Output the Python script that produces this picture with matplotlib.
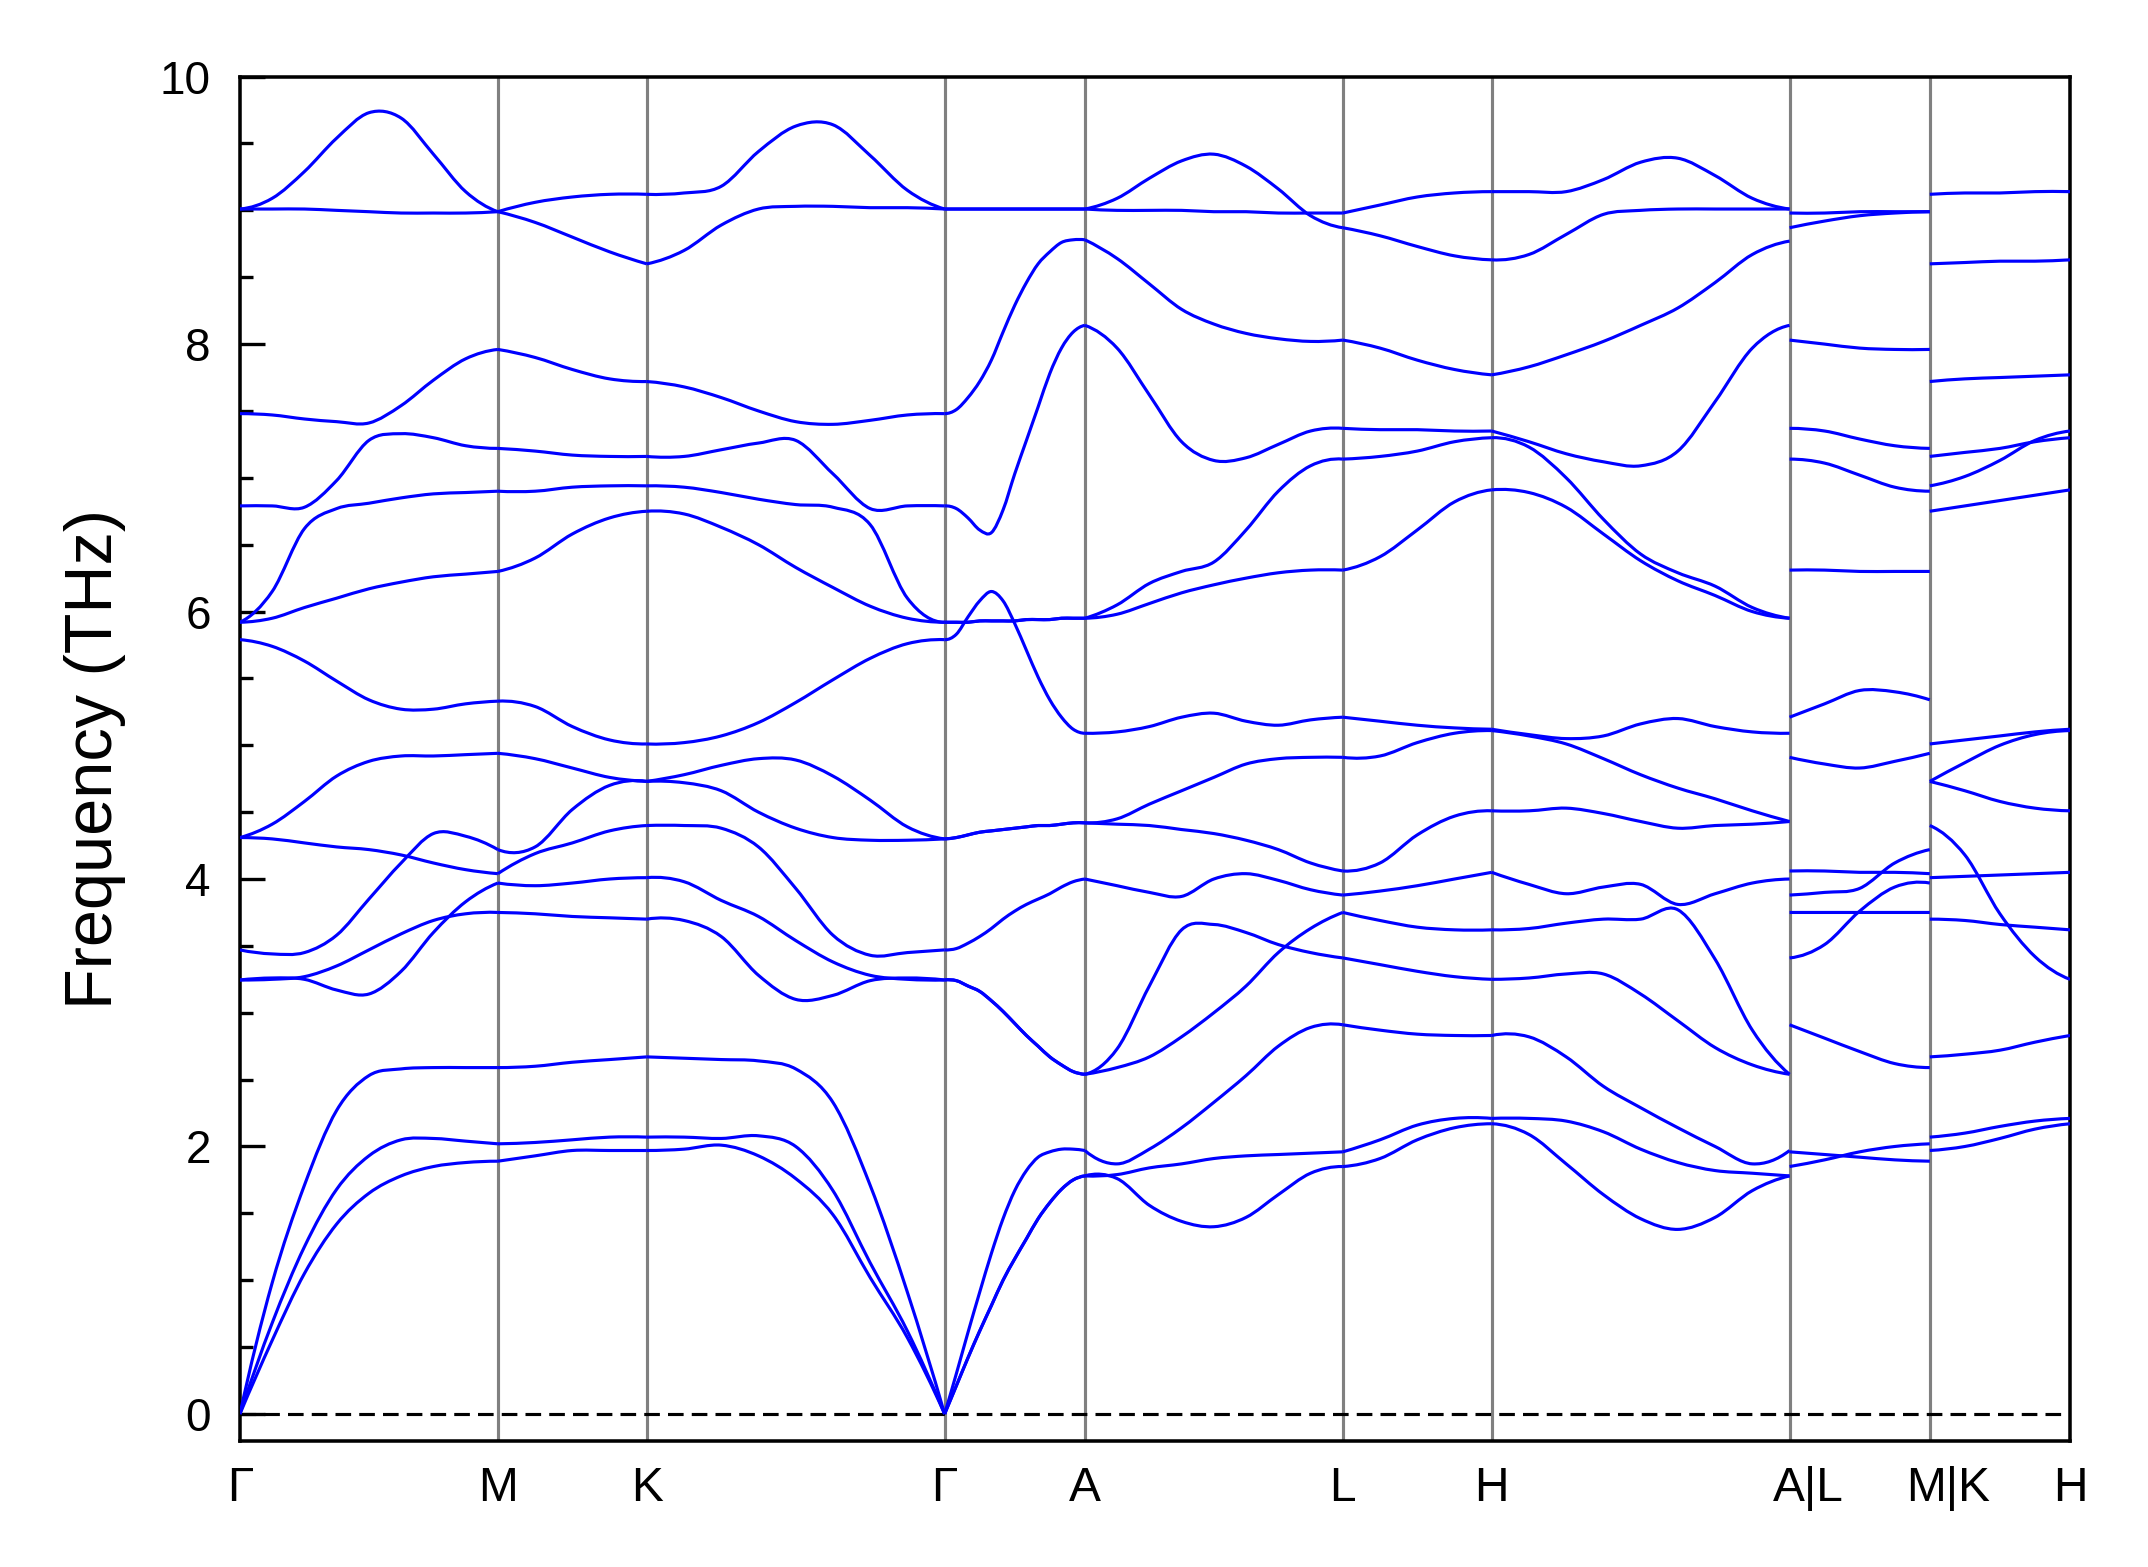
import numpy as np
import matplotlib
matplotlib.use("Agg")
import matplotlib.pyplot as plt
import matplotlib.transforms as mtransforms
from matplotlib.ticker import MultipleLocator
from matplotlib.path import Path
from matplotlib.patches import PathPatch

plt.rcParams['font.family'] = ['Liberation Sans', 'DejaVu Sans']

# ---------------- data ----------------
labels = ['Γ', 'M', 'K', 'Γ', 'A', 'L', 'H', 'A|L', 'M|K', 'H']
# path lengths of the segments (reciprocal-space distance, arbitrary units)
seg_names = ['Γ-M', 'M-K', 'K-Γ', 'Γ-A', 'A-L', 'L-H', 'H-A', 'L-M', 'K-H']
seg_len = [1.0, 0.5774, 1.1547, 0.5437, 1.0, 0.5774, 1.1547, 0.5437, 0.5437]

# frequencies (THz), each list = one band sampled evenly along its segment
G_M = [
    [9.01, 9.09, 9.29, 9.54, 9.73, 9.69, 9.42, 9.14, 8.99],
    [9.01, 9.01, 9.01, 9.00, 8.99, 8.98, 8.98, 8.98, 8.99],
    [7.48, 7.47, 7.44, 7.42, 7.41, 7.54, 7.73, 7.89, 7.96],
    [6.79, 6.79, 6.78, 6.98, 7.28, 7.33, 7.30, 7.24, 7.22],
    [5.92, 6.15, 6.62, 6.77, 6.81, 6.85, 6.88, 6.89, 6.90],
    [5.92, 5.95, 6.03, 6.10, 6.17, 6.22, 6.26, 6.28, 6.30],
    [5.79, 5.74, 5.63, 5.48, 5.34, 5.27, 5.27, 5.31, 5.33],
    [4.31, 4.41, 4.58, 4.77, 4.88, 4.92, 4.92, 4.93, 4.94],
    [4.31, 4.30, 4.27, 4.24, 4.22, 4.18, 4.12, 4.07, 4.04],
    [3.47, 3.44, 3.45, 3.58, 3.85, 4.12, 4.34, 4.32, 4.22],
    [3.245, 3.26, 3.25, 3.17, 3.14, 3.31, 3.60, 3.83, 3.97],
    [3.245, 3.25, 3.27, 3.35, 3.47, 3.59, 3.69, 3.74, 3.75],
    [0.0, 0.98, 1.71, 2.27, 2.53, 2.58, 2.59, 2.59, 2.59],
    [0.0, 0.68, 1.25, 1.68, 1.93, 2.05, 2.06, 2.04, 2.02],
    [0.0, 0.55, 1.05, 1.42, 1.65, 1.78, 1.85, 1.88, 1.89],
]
M_K = [
    [8.99, 9.06, 9.10, 9.12, 9.12],
    [8.99, 8.91, 8.80, 8.69, 8.60],
    [7.96, 7.90, 7.81, 7.74, 7.72],
    [7.22, 7.20, 7.17, 7.16, 7.16],
    [6.90, 6.90, 6.93, 6.94, 6.94],
    [6.30, 6.40, 6.58, 6.70, 6.75],
    [5.33, 5.29, 5.14, 5.04, 5.01],
    [4.94, 4.90, 4.83, 4.76, 4.73],
    [4.22, 4.24, 4.52, 4.70, 4.73],
    [4.04, 4.19, 4.27, 4.36, 4.40],
    [3.97, 3.95, 3.97, 4.00, 4.01],
    [3.75, 3.74, 3.72, 3.71, 3.70],
    [2.59, 2.60, 2.63, 2.65, 2.67],
    [2.02, 2.03, 2.05, 2.07, 2.07],
    [1.89, 1.93, 1.97, 1.97, 1.97],
]
K_G = [
    [9.12, 9.13, 9.18, 9.44, 9.63, 9.64, 9.41, 9.15, 9.01],
    [8.60, 8.70, 8.89, 9.01, 9.03, 9.03, 9.02, 9.02, 9.01],
    [7.72, 7.68, 7.60, 7.50, 7.42, 7.40, 7.43, 7.47, 7.48],
    [7.16, 7.16, 7.21, 7.26, 7.28, 7.03, 6.77, 6.79, 6.79],
    [6.94, 6.93, 6.89, 6.84, 6.80, 6.78, 6.65, 6.10, 5.92],
    [6.75, 6.73, 6.63, 6.50, 6.33, 6.18, 6.04, 5.95, 5.92],
    [5.01, 5.02, 5.07, 5.17, 5.32, 5.49, 5.65, 5.76, 5.79],
    [4.73, 4.78, 4.85, 4.90, 4.89, 4.77, 4.59, 4.39, 4.30],
    [4.73, 4.72, 4.66, 4.50, 4.38, 4.31, 4.29, 4.29, 4.30],
    [4.40, 4.40, 4.38, 4.24, 3.93, 3.58, 3.43, 3.45, 3.47],
    [4.01, 3.98, 3.84, 3.72, 3.54, 3.38, 3.28, 3.25, 3.245],
    [3.70, 3.69, 3.57, 3.28, 3.10, 3.13, 3.24, 3.26, 3.245],
    [2.67, 2.66, 2.65, 2.64, 2.58, 2.33, 1.71, 0.91, 0.0],
    [2.07, 2.07, 2.06, 2.08, 2.00, 1.67, 1.13, 0.62, 0.0],
    [1.97, 1.98, 2.01, 1.93, 1.76, 1.49, 1.02, 0.57, 0.0],
]
G_A = [
    [9.01, 9.01, 9.01, 9.01, 9.01, 9.01, 9.01, 9.01, 9.01, 9.01, 9.01, 9.01, 9.01],
    [9.01, 9.01, 9.01, 9.01, 9.01, 9.01, 9.01, 9.01, 9.01, 9.01, 9.01, 9.01, 9.01],
    [7.48, 7.51, 7.60, 7.72, 7.88, 8.09, 8.29, 8.46, 8.60, 8.69, 8.76, 8.78, 8.78],
    [6.79, 6.77, 6.70, 6.61, 6.59, 6.76, 7.03, 7.28, 7.53, 7.78, 7.97, 8.09, 8.14],
    [5.92, 5.92, 5.92, 5.93, 5.93, 5.93, 5.93, 5.94, 5.94, 5.94, 5.95, 5.95, 5.95],
    [5.92, 5.92, 5.92, 5.93, 5.93, 5.93, 5.93, 5.94, 5.94, 5.94, 5.95, 5.95, 5.95],
    [5.79, 5.83, 5.96, 6.08, 6.15, 6.08, 5.91, 5.71, 5.51, 5.34, 5.21, 5.12, 5.09],
    [4.30, 4.31, 4.33, 4.35, 4.36, 4.37, 4.38, 4.39, 4.40, 4.40, 4.41, 4.42, 4.42],
    [4.30, 4.31, 4.33, 4.35, 4.36, 4.37, 4.38, 4.39, 4.40, 4.40, 4.41, 4.42, 4.42],
    [3.47, 3.48, 3.52, 3.57, 3.63, 3.70, 3.76, 3.81, 3.85, 3.89, 3.94, 3.98, 4.00],
    [3.245, 3.24, 3.20, 3.16, 3.09, 3.01, 2.92, 2.83, 2.75, 2.67, 2.61, 2.56, 2.54],
    [3.245, 3.24, 3.20, 3.16, 3.09, 3.01, 2.92, 2.83, 2.75, 2.67, 2.61, 2.56, 2.54],
    [0.0, 0.30, 0.61, 0.91, 1.20, 1.46, 1.67, 1.82, 1.92, 1.96, 1.98, 1.98, 1.97],
    [0.0, 0.21, 0.42, 0.62, 0.81, 1.00, 1.16, 1.31, 1.46, 1.58, 1.68, 1.75, 1.78],
    [0.0, 0.21, 0.42, 0.62, 0.81, 1.00, 1.16, 1.31, 1.46, 1.58, 1.68, 1.75, 1.78],
]
A_L = [
    [9.01, 9.09, 9.24, 9.37, 9.42, 9.33, 9.16, 8.96, 8.87],
    [9.01, 9.00, 9.00, 9.00, 8.99, 8.99, 8.98, 8.98, 8.98],
    [8.78, 8.64, 8.45, 8.26, 8.15, 8.08, 8.04, 8.02, 8.03],
    [8.14, 7.97, 7.62, 7.27, 7.13, 7.15, 7.25, 7.35, 7.37],
    [5.95, 6.05, 6.21, 6.30, 6.37, 6.61, 6.90, 7.09, 7.14],
    [5.95, 5.98, 6.06, 6.14, 6.20, 6.25, 6.29, 6.31, 6.31],
    [5.09, 5.10, 5.14, 5.21, 5.24, 5.18, 5.15, 5.19, 5.21],
    [4.42, 4.45, 4.56, 4.66, 4.76, 4.86, 4.90, 4.91, 4.91],
    [4.42, 4.41, 4.40, 4.37, 4.34, 4.29, 4.22, 4.12, 4.06],
    [4.00, 3.95, 3.90, 3.87, 4.00, 4.04, 3.99, 3.92, 3.88],
    [2.54, 2.73, 3.20, 3.62, 3.66, 3.60, 3.51, 3.45, 3.41],
    [2.54, 2.59, 2.67, 2.82, 3.00, 3.20, 3.45, 3.63, 3.75],
    [1.97, 1.87, 1.98, 2.14, 2.33, 2.53, 2.75, 2.89, 2.91],
    [1.78, 1.79, 1.84, 1.87, 1.91, 1.93, 1.94, 1.95, 1.96],
    [1.78, 1.76, 1.56, 1.44, 1.40, 1.47, 1.64, 1.80, 1.85],
]
L_H = [
    [8.98, 9.04, 9.10, 9.13, 9.14],
    [8.87, 8.81, 8.73, 8.66, 8.63],
    [8.03, 7.97, 7.88, 7.81, 7.77],
    [7.37, 7.36, 7.36, 7.35, 7.35],
    [7.14, 7.16, 7.20, 7.27, 7.30],
    [6.31, 6.41, 6.61, 6.82, 6.91],
    [5.21, 5.18, 5.15, 5.13, 5.12],
    [4.91, 4.92, 5.02, 5.09, 5.11],
    [4.06, 4.12, 4.33, 4.47, 4.51],
    [3.88, 3.91, 3.95, 4.00, 4.05],
    [3.75, 3.69, 3.64, 3.62, 3.62],
    [3.41, 3.36, 3.31, 3.27, 3.25],
    [2.91, 2.87, 2.84, 2.83, 2.83],
    [1.96, 2.05, 2.16, 2.21, 2.21],
    [1.85, 1.91, 2.05, 2.14, 2.17],
]
H_A = [
    [9.14, 9.14, 9.14, 9.23, 9.36, 9.39, 9.26, 9.09, 9.01],
    [8.63, 8.67, 8.82, 8.97, 9.00, 9.01, 9.01, 9.01, 9.01],
    [7.77, 7.83, 7.92, 8.02, 8.14, 8.27, 8.46, 8.67, 8.77],
    [7.35, 7.27, 7.18, 7.12, 7.09, 7.20, 7.57, 7.97, 8.14],
    [7.30, 7.23, 7.00, 6.69, 6.43, 6.29, 6.19, 6.03, 5.95],
    [6.91, 6.89, 6.78, 6.58, 6.38, 6.23, 6.12, 6.00, 5.95],
    [5.12, 5.08, 5.05, 5.07, 5.16, 5.20, 5.14, 5.10, 5.09],
    [5.11, 5.07, 5.01, 4.90, 4.78, 4.68, 4.60, 4.51, 4.43],
    [4.51, 4.51, 4.53, 4.49, 4.43, 4.38, 4.40, 4.41, 4.43],
    [4.05, 3.96, 3.89, 3.94, 3.96, 3.81, 3.89, 3.97, 4.00],
    [3.62, 3.63, 3.67, 3.70, 3.70, 3.77, 3.40, 2.87, 2.54],
    [3.25, 3.26, 3.29, 3.29, 3.14, 2.94, 2.74, 2.61, 2.54],
    [2.83, 2.82, 2.67, 2.45, 2.29, 2.14, 2.00, 1.87, 1.97],
    [2.21, 2.21, 2.19, 2.11, 1.98, 1.88, 1.82, 1.80, 1.78],
    [2.17, 2.09, 1.87, 1.64, 1.46, 1.38, 1.47, 1.67, 1.78],
]
L_M = [
    [8.98, 8.98, 8.99, 8.99, 8.99],
    [8.87, 8.92, 8.96, 8.98, 8.99],
    [8.03, 8.00, 7.97, 7.96, 7.96],
    [7.37, 7.35, 7.29, 7.24, 7.22],
    [7.14, 7.11, 7.02, 6.93, 6.90],
    [6.31, 6.31, 6.30, 6.30, 6.30],
    [5.21, 5.31, 5.41, 5.40, 5.34],
    [4.91, 4.86, 4.83, 4.88, 4.94],
    [4.06, 4.06, 4.05, 4.05, 4.04],
    [3.88, 3.90, 3.93, 4.12, 4.22],
    [3.75, 3.75, 3.75, 3.75, 3.75],
    [3.41, 3.51, 3.76, 3.94, 3.97],
    [2.91, 2.81, 2.71, 2.62, 2.59],
    [1.96, 1.94, 1.92, 1.90, 1.89],
    [1.85, 1.90, 1.96, 2.00, 2.02],
]
K_H = [
    [9.12, 9.13, 9.13, 9.14, 9.14],
    [8.60, 8.61, 8.62, 8.62, 8.63],
    [7.72, 7.74, 7.75, 7.76, 7.77],
    [7.16, 7.19, 7.22, 7.27, 7.30],
    [6.94, 7.01, 7.13, 7.28, 7.35],
    [6.75, 6.79, 6.83, 6.87, 6.91],
    [5.01, 5.04, 5.07, 5.10, 5.12],
    [4.73, 4.87, 5.00, 5.08, 5.11],
    [4.73, 4.66, 4.58, 4.53, 4.51],
    [4.40, 4.18, 3.74, 3.42, 3.25],
    [4.01, 4.02, 4.03, 4.04, 4.05],
    [3.70, 3.69, 3.66, 3.64, 3.62],
    [2.67, 2.69, 2.72, 2.78, 2.83],
    [2.07, 2.10, 2.15, 2.19, 2.21],
    [1.97, 2.00, 2.06, 2.13, 2.17],
]
segments = [G_M, M_K, K_G, G_A, A_L, L_H, H_A, L_M, K_H]


# ---------------- helpers ----------------
def tangents(x, y):
    """Catmull-Rom style tangents for drawing a smooth curve through the
    sampled points (one-sided three-point estimate at the ends)."""
    n = len(x)
    m = np.zeros(n)
    m[1:-1] = (y[2:] - y[:-2]) / (x[2:] - x[:-2])
    h0, h1 = x[1] - x[0], x[2] - x[1]
    d0, d1 = (y[1] - y[0]) / h0, (y[2] - y[1]) / h1
    m[0] = ((2 * h0 + h1) * d0 - h0 * d1) / (h0 + h1)
    h0, h1 = x[-1] - x[-2], x[-2] - x[-3]
    d0, d1 = (y[-1] - y[-2]) / h0, (y[-2] - y[-3]) / h1
    m[-1] = ((2 * h0 + h1) * d0 - h0 * d1) / (h0 + h1)
    return m


def smooth_band_path(x, y):
    x = np.asarray(x, float)
    y = np.asarray(y, float)
    m = tangents(x, y)
    verts = [(x[0], y[0])]
    codes = [Path.MOVETO]
    for i in range(len(x) - 1):
        h = x[i + 1] - x[i]
        verts += [(x[i] + h / 3, y[i] + m[i] * h / 3),
                  (x[i + 1] - h / 3, y[i + 1] - m[i + 1] * h / 3),
                  (x[i + 1], y[i + 1])]
        codes += [Path.CURVE4] * 3
    return Path(verts, codes)


# ---------------- plot ----------------
fig = plt.figure(figsize=(2148 / 300, 1567 / 300), dpi=300)
ax = fig.add_axes([0.1117, 0.0806, 0.8520, 0.8705])

edges = np.concatenate([[0.0], np.cumsum(seg_len)])
for seg, x0, x1 in zip(segments, edges[:-1], edges[1:]):
    for band in seg:
        x = np.linspace(x0, x1, len(band))
        ax.add_patch(PathPatch(smooth_band_path(x, band), facecolor='none',
                               edgecolor='#0000ff', lw=0.75,
                               joinstyle='round', capstyle='butt', zorder=3))

for xv in edges[1:-1]:
    ax.axvline(xv, color='#808080', lw=0.75, zorder=2)
ax.axhline(0.0, color='black', lw=0.75, ls=(0, (5, 2.6)), zorder=2)

ax.set_xlim(edges[0], edges[-1])
ax.set_ylim(-0.2, 10)
ax.set_xticks(edges)
ax.set_xticklabels(labels, fontsize=11.5)
ax.tick_params(axis='x', length=0, pad=6)
# the combined labels sit slightly right of their break line
shift = mtransforms.ScaledTranslation(4.5 / 72, 0, fig.dpi_scale_trans)
for lab in ax.get_xticklabels():
    if '|' in lab.get_text():
        lab.set_transform(lab.get_transform() + shift)
ax.yaxis.set_major_locator(MultipleLocator(2))
ax.yaxis.set_minor_locator(MultipleLocator(0.5))
ax.tick_params(axis='y', which='major', direction='in', length=6, width=0.8,
               labelsize=11, pad=7)
ax.tick_params(axis='y', which='minor', direction='in', length=3, width=0.8)
ax.set_ylabel('Frequency (THz)', fontsize=16, labelpad=8)
for s in ax.spines.values():
    s.set_linewidth(0.85)

fig.savefig('out.png', dpi=300)
